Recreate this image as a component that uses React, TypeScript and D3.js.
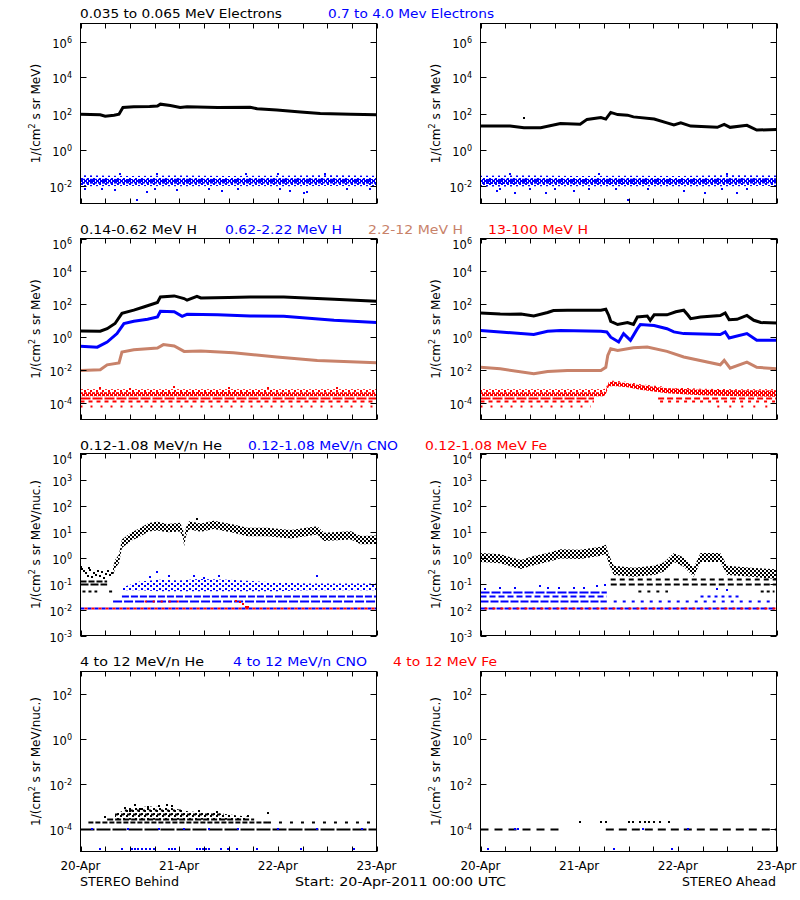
import React from 'react';
import * as d3 from 'd3';

type Pt = [number, number];
type Lev = [number, number, number]; // value, startDay, endDay

const DATE_LABELS = ['20-Apr', '21-Apr', '22-Apr', '23-Apr'];

// ---------- Row 1: electrons ----------
const BEH_E_LO: Pt[] = [[0,91],[0.1,88],[0.2,85],[0.25,71],[0.34,81],[0.39,91],[0.43,214],[0.54,234],[0.7,245],[0.78,257],[0.81,331],[0.91,275],[1.01,214],[1.08,240],[1.39,214],[1.72,224],[1.79,182],[1.99,155],[2.23,123],[2.43,100],[2.74,91],[3.0,85]];
const AHD_E_LO: Pt[] = [[0,20],[0.3,20],[0.44,16],[0.61,16],[0.81,28],[1.01,25],[1.08,47],[1.22,60],[1.27,49],[1.32,115],[1.39,87],[1.49,81],[1.55,65],[1.76,49],[1.89,30],[1.96,23],[2.03,30],[2.13,20],[2.40,17],[2.47,25],[2.53,17],[2.70,22],[2.80,12],[3.0,13]];
const AHD_E_LO_STRAY: Pt[] = [[0.44,53]];
const E_HI_DAYS = [0, 0.5, 1, 1.5, 2, 2.5, 3];
const BEH_EH_CORE_LO = [0.0125,0.013,0.0125,0.013,0.0125,0.013,0.0125];
const BEH_EH_CORE_HI = [0.024,0.023,0.024,0.023,0.024,0.024,0.023];
const BEH_EH_OUT_LO = [0.009,0.0095,0.009,0.0095,0.009,0.0095,0.009];
const BEH_EH_OUT_HI = [0.037,0.034,0.036,0.034,0.035,0.037,0.035];
const AHD_EH_CORE_LO = [0.012,0.0125,0.0125,0.012,0.0125,0.0125,0.013];
const AHD_EH_CORE_HI = [0.023,0.024,0.023,0.024,0.023,0.024,0.025];
const AHD_EH_OUT_LO = [0.0088,0.009,0.0092,0.009,0.009,0.0092,0.0095];
const AHD_EH_OUT_HI = [0.035,0.036,0.034,0.035,0.034,0.037,0.036];
const BEH_EH_STRAY: Pt[] = [[0.05,0.0068],[0.22,0.0062],[0.35,0.0058],[0.57,0.0016],[0.67,0.0045],[0.75,0.0063],[0.98,0.0058],[1.3,0.006],[1.43,0.0052],[1.6,0.0065],[2.02,0.0062],[2.12,0.0052],[2.27,0.0038],[2.3,0.0046],[2.7,0.0066],[2.93,0.006],[0.78,0.045],[1.68,0.042],[2.48,0.044],[0.4,0.043],[2.0,0.041]];
const AHD_EH_STRAY: Pt[] = [[0.17,0.005],[0.2,0.0068],[0.35,0.0036],[0.5,0.0066],[0.66,0.0036],[0.75,0.0066],[0.95,0.005],[1.1,0.0066],[1.37,0.0066],[1.49,0.0016],[1.7,0.0066],[2.06,0.005],[2.28,0.0036],[2.45,0.0066],[2.6,0.0036],[2.7,0.0068],[0.3,0.042],[1.2,0.044],[2.5,0.042]];

// ---------- Row 2: protons ----------
const BEH_H1: Pt[] = [[0,2.4],[0.2,2.3],[0.27,3.3],[0.35,6.8],[0.42,28],[0.54,44],[0.64,69],[0.78,129],[0.81,282],[0.95,324],[1.05,224],[1.08,178],[1.18,309],[1.22,245],[1.5,263],[1.72,282],[2.06,282],[2.57,204],[3.0,155]];
const BEH_H2: Pt[] = [[0,0.28],[0.17,0.25],[0.27,0.51],[0.37,1.66],[0.44,6.8],[0.54,9.3],[0.68,12.3],[0.78,17],[0.81,38],[0.95,35],[1.03,18.6],[1.08,24.5],[1.39,23.4],[1.72,19.5],[2.06,18.6],[2.57,10.7],[3.0,7.8]];
const BEH_H3: Pt[] = [[0,0.0095],[0.2,0.0105],[0.27,0.021],[0.39,0.027],[0.42,0.126],[0.54,0.174],[0.78,0.219],[0.84,0.355],[0.95,0.295],[1.05,0.138],[1.22,0.145],[1.55,0.115],[1.99,0.063],[2.40,0.039],[3.0,0.028]];
const BEH_H4_DAYS = [0, 1, 2, 3];
const BEH_H4_CORE_LO = [2.6e-4, 2.6e-4, 2.6e-4, 2.6e-4];
const BEH_H4_CORE_HI = [4.6e-4, 4.7e-4, 4.6e-4, 4.6e-4];
const BEH_H4_OUT_HI = [6.8e-4, 7e-4, 6.8e-4, 7e-4];
const BEH_H4_LEVELS: Lev[] = [[1.95e-4,0,3],[1.4e-4,0,3],[6.2e-5,0,3]];
const BEH_H4_STRAY: Pt[] = [[0.2,8e-4],[0.95,9e-4],[1.5,8e-4],[2.6,8e-4],[0.5,7.5e-4],[1.9,7.8e-4]];

const AHD_H1: Pt[] = [[0,30],[0.2,26],[0.30,25],[0.41,26],[0.54,19.5],[0.68,32],[0.74,42],[0.88,44],[1.22,44],[1.27,50],[1.30,21],[1.32,9.3],[1.39,5.9],[1.49,7.8],[1.55,5.9],[1.59,17],[1.69,19.5],[1.72,10.7],[1.76,23],[1.89,23],[1.98,35],[2.06,44],[2.10,23],[2.13,13.5],[2.23,17],[2.43,21],[2.48,30],[2.52,11.7],[2.60,12.3],[2.70,21],[2.77,10.7],[2.84,7.8],[3.0,7.4]];
const AHD_H2: Pt[] = [[0,2.6],[0.2,2.1],[0.54,1.45],[0.68,2.3],[0.81,2.6],[1.22,2.3],[1.28,2.1],[1.32,1.0],[1.40,0.51],[1.45,1.66],[1.52,0.65],[1.59,3.3],[1.62,5.9],[1.76,5.2],[1.89,3.3],[1.96,2.1],[2.06,1.66],[2.43,1.45],[2.48,2.1],[2.52,0.89],[2.70,1.66],[2.80,0.65],[3.0,0.65]];
const AHD_H3: Pt[] = [[0,0.015],[0.2,0.012],[0.54,0.006],[0.68,0.0083],[0.88,0.0095],[1.22,0.0095],[1.27,0.015],[1.29,0.079],[1.32,0.2],[1.39,0.158],[1.55,0.229],[1.69,0.251],[1.89,0.138],[2.06,0.063],[2.43,0.021],[2.47,0.039],[2.53,0.013],[2.70,0.031],[2.80,0.015],[3.0,0.012]];
const AHD_H4_DAYS = [0,1.25,1.27,1.30,1.35,1.49,1.62,1.89,2.23,2.6,3.0];
const AHD_H4_CORE_LO = [2.6e-4,2.6e-4,3.5e-4,1.0e-3,1.1e-3,9e-4,6.5e-4,4e-4,3e-4,2.6e-4,2.4e-4];
const AHD_H4_CORE_HI = [4.6e-4,4.6e-4,6e-4,1.9e-3,2e-3,1.6e-3,1.2e-3,8e-4,6.5e-4,6e-4,5.8e-4];
const AHD_H4_OUT_HI = [7e-4,7e-4,8e-4,2.3e-3,2.3e-3,1.9e-3,1.4e-3,9.5e-4,7.5e-4,7e-4,6.8e-4];
const AHD_H4_LEVELS: Lev[] = [[1.95e-4,0,1.15],[1.4e-4,0,1.15],[6.2e-5,0,1.12],[1.95e-4,1.8,3],[1.4e-4,1.82,3],[6.2e-5,2.4,3]];

// ---------- Row 3: 0.12-1.08 MeV/n ions ----------
const BEH_HE_DAYS = [0.33,0.35,0.39,0.42,0.51,0.61,0.69,0.78,0.88,1.01,1.04,1.05,1.07,1.10,1.22,1.35,1.55,1.69,1.89,2.13,2.40,2.47,2.74,2.84,3.0];
const BEH_HE_LO = [0.19,0.39,0.6,2.3,4.3,6.5,10,11,9.3,10,5.4,2.7,6.9,12,9.7,12.5,8.9,6.5,6.5,5.4,7.6,4.3,4.9,3.2,3.3];
const BEH_HE_HI = [0.4,0.8,1.3,4.9,9,13.8,21,23.5,19.6,21.5,11.5,5.8,14.5,25,20.5,26,18.7,13.8,13.8,11.3,16,9,10.3,6.7,7];
const BEH_HE_EARLY: Pt[] = [[0.02,0.35],[0.04,0.3],[0.06,0.25],[0.08,0.2],[0.1,0.32],[0.12,0.18],[0.14,0.26],[0.16,0.22],[0.18,0.3],[0.2,0.2],[0.22,0.27],[0.24,0.17],[0.26,0.23],[0.28,0.3],[0.3,0.22],[0.32,0.26],[1.18,31],[0.01,0.42],[0.09,0.4]];
const BEH_HE_LEVELS: Lev[] = [[0.129,0,0.27],[0.095,0,0.27],[0.05,0.02,0.17],[0.05,0.29,0.33]];
const BEH_CNO_DAYS = [0.42,0.6,0.8,1.0,1.2,1.5,1.8,2.0,2.3,2.6,3.0];
const BEH_CNO_LO = [0.055,0.055,0.05,0.05,0.05,0.05,0.05,0.05,0.055,0.055,0.055];
const BEH_CNO_HI = [0.07,0.12,0.14,0.13,0.15,0.14,0.12,0.11,0.1,0.1,0.1];
const BEH_CNO_STRAY: Pt[] = [[0.78,0.28],[0.9,0.19],[1.15,0.2],[1.4,0.19],[2.4,0.2],[0.7,0.18],[1.25,0.17]];
const BEH_CNO_LEVELS: Lev[] = [[0.034,0.42,3],[0.022,0.33,3],[0.011,0,3]];
const BEH_FE_LEVELS: Lev[] = [[0.011,0,3],[0.022,0.6,1.0]];
const BEH_FE_STRAY: Pt[] = [[1.58,0.022],[1.62,0.019],[1.65,0.016],[1.68,0.013],[1.7,0.012]];

const AHD_HE_DAYS = [0,0.2,0.41,0.54,0.68,0.81,1.01,1.22,1.27,1.30,1.35,1.55,1.76,1.86,1.96,2.06,2.16,2.23,2.43,2.50,2.74,3.0];
const AHD_HE_LO = [0.67,0.6,0.36,0.5,0.67,0.92,0.88,1.16,1.4,0.6,0.21,0.18,0.21,0.29,0.67,0.44,0.18,0.67,0.67,0.21,0.18,0.15];
const AHD_HE_HI = [1.5,1.33,0.8,1.14,1.5,2.07,2.0,2.6,3.1,1.33,0.48,0.4,0.48,0.65,1.5,1.0,0.4,1.5,1.5,0.48,0.4,0.35];
const AHD_HE_LEVELS: Lev[] = [[0.15,1.32,3],[0.095,1.32,3],[0.05,1.6,1.9],[0.05,2.84,2.98]];
const AHD_CNO_LEVELS: Lev[] = [[0.046,0,1.28],[0.034,0,1.28],[0.022,0,1.28],[0.022,1.35,3],[0.034,2.23,2.63],[0.011,0,3]];
const AHD_CNO_STRAY: Pt[] = [[0.05,0.06],[0.2,0.07],[0.35,0.065],[0.6,0.08],[0.68,0.065],[0.8,0.07],[0.95,0.065],[1.05,0.07],[1.18,0.08],[1.26,0.085],[2.4,0.06],[2.5,0.055]];
const AHD_FE_LEVELS: Lev[] = [[0.011,0,3]];

// ---------- Row 4: 4-12 MeV/n ions ----------
const BEH_HE4_DAYS = [0.35,0.5,0.7,0.9,1.1,1.4,1.7];
const BEH_HE4_LO = [2.6e-4,2.6e-4,2.6e-4,2.6e-4,2.6e-4,2.6e-4,2.6e-4];
const BEH_HE4_HI = [4.5e-4,9e-4,1e-3,9e-4,6e-4,5e-4,3.5e-4];
const BEH_HE4_LEVELS: Lev[] = [[1e-4,0,3],[2.0e-4,0.08,1.9],[2.0e-4,1.9,3],[2.9e-4,0.27,1.76],[4.7e-4,0.35,1.45],[7.2e-4,0.45,1.05]];
const BEH_HE4_STRAY: Pt[] = [[0.45,9e-4],[0.55,1.2e-3],[0.6,8e-4],[0.68,1e-3],[0.8,1.1e-3],[0.88,1.2e-3],[0.93,1.05e-3],[0.5,6e-4],[1.2,6e-4],[1.38,5.5e-4],[1.9,5e-4],[0.25,3.5e-4],[1.7,3.8e-4]];
const BEH_CNO4_DAYS = [0.2,0.42,0.52,0.55,0.58,0.62,0.66,0.7,0.74,0.9,0.93,0.96,1.18,1.21,1.24,1.27,1.3,1.42,1.49,1.59,1.79,2.23,2.77];
const BEH_CNO4_ON_LINE = [0.12,0.48,0.8,1.05,1.3,1.6,2.0,2.4,2.85];
const AHD_HE4_LEVELS: Lev[] = [[1e-4,0,0.85],[1e-4,1.27,3]];
const AHD_HE4_DAYS = [1.01,1.22,1.27,1.50,1.55,1.62,1.67,1.71,1.76,1.82,1.91];
const AHD_CNO4_DAYS = [0.08,1.35,1.94];
const AHD_CNO4_ON_LINE = [0.35,0.38,1.65,2.1];
const HE4_MIN_COUNT = 2.0e-4;
const CNO4_MIN_COUNT = 1.26e-5;
const CNO4_LINE = 1e-4;

// ---------- layout ----------
const ROWS = [
  { top: 23.5, bottom: 203.5, domain: [1e-3, 1e7], ticks: [1e-2, 1, 1e2, 1e4, 1e6], unit: 'MeV)' },
  { top: 238.5, bottom: 419.5, domain: [1e-5, 1e6], ticks: [1e-4, 1e-2, 1, 1e2, 1e4, 1e6], unit: 'MeV)' },
  { top: 453.5, bottom: 635.5, domain: [1e-3, 1e4], ticks: [1e-3, 1e-2, 1e-1, 1, 1e1, 1e2, 1e3, 1e4], unit: 'MeV/nuc.)' },
  { top: 671.5, bottom: 851.5, domain: [1e-5, 1e3], ticks: [1e-4, 1e-2, 1, 1e2], unit: 'MeV/nuc.)' },
];
const FONT = "'DejaVu Sans', Verdana, sans-serif";
const BLACK = '#000000', BLUE = '#0000ff', RED = '#ff0000', BROWN = '#c8826a';

const PATTERNS: Record<string, { w: number; h: number; rects: number[][] }> = {
  dense: { w: 4, h: 4, rects: [[0, 0, 3, 2], [2, 2, 2, 2], [0, 2, 1, 2]] },
  medium: { w: 4, h: 4, rects: [[0, 0, 2, 2], [2, 2, 2, 2]] },
  sparse: { w: 6, h: 5, rects: [[0, 0, 2, 2], [3, 3, 2, 2]] },
};

type Band = { days: number[]; lo: number[]; hi: number[]; color: string; pat: string };
type LevelSet = { levels: Lev[]; color: string; dash: string[]; off?: number };
type Series = { data: Pt[]; color: string };
type PanelCfg = { row: number; col: number; bands: Band[]; levels: LevelSet[]; lines: Series[]; points: Series[] };

const toPts = (days: number[], v: number): Pt[] => days.map((d) => [d, v] as Pt);

function Panel({ cfg }: { cfg: PanelCfg }) {
  const R = ROWS[cfg.row];
  const x0 = cfg.col === 0 ? 80.5 : 480.5;
  const x1 = x0 + 296;
  const xs = d3.scaleLinear().domain([0, 3]).range([x0, x1]);
  const ys = d3.scaleLog().domain(R.domain).range([R.bottom, R.top]);
  const clip = `clip-${cfg.row}-${cfg.col}`;
  const line = d3.line<Pt>().x((d) => xs(d[0])).y((d) => ys(d[1]));
  const xTicks = d3.range(0, 13).map((i) => i * 0.25);
  const labelX = cfg.col === 0 ? 72 : 472;
  const ylabX = cfg.col === 0 ? 39.5 : 439.5;
  const cy = (R.top + R.bottom) / 2;
  return (
    <g>
      <defs>
        <clipPath id={clip}>
          <rect x={x0} y={R.top} width={x1 - x0} height={R.bottom - R.top} />
        </clipPath>
      </defs>
      <g clipPath={`url(#${clip})`}>
        {cfg.bands.map((b, i) => {
          const area = d3
            .area<number>()
            .x((_, k) => xs(b.days[k]))
            .y0((_, k) => ys(b.lo[k]))
            .y1((_, k) => ys(b.hi[k]));
          return <path key={'b' + i} d={area(b.days) || ''} fill={`url(#pat-${b.pat}-${b.color.slice(1)})`} />;
        })}
        {cfg.levels.map((ls, i) =>
          ls.levels.map((l, j) => (
            <line
              key={'l' + i + '-' + j}
              x1={xs(l[1])}
              x2={xs(l[2])}
              y1={Math.round(ys(l[0])) + 0.5}
              y2={Math.round(ys(l[0])) + 0.5}
              stroke={ls.color}
              strokeWidth={2}
              strokeDasharray={ls.dash[j % ls.dash.length]}
              strokeDashoffset={ls.off || 0}
            />
          ))
        )}
        {cfg.lines.map((s, i) => (
          <path key={'s' + i} d={line(s.data) || ''} fill="none" stroke={s.color} strokeWidth={3} />
        ))}
        {cfg.points.map((s, i) =>
          s.data.map((p, j) => (
            <rect key={'p' + i + '-' + j} x={Math.round(xs(p[0])) - 1} y={Math.round(ys(p[1])) - 1} width={2} height={2} fill={s.color} />
          ))
        )}
      </g>
      <rect x={x0} y={R.top} width={x1 - x0} height={R.bottom - R.top} fill="none" stroke="#000" strokeWidth={1} />
      {xTicks.map((t, i) => (
        <g key={'xt' + i}>
          <line x1={Math.round(xs(t)) + 0.5} x2={Math.round(xs(t)) + 0.5} y1={R.bottom} y2={R.bottom - 5} stroke="#000" />
          <line x1={Math.round(xs(t)) + 0.5} x2={Math.round(xs(t)) + 0.5} y1={R.top} y2={R.top + 5} stroke="#000" />
        </g>
      ))}
      {R.ticks.map((t, i) => {
        const y = Math.round(ys(t)) + 0.5;
        const e = Math.round(Math.log10(t));
        const atTop = Math.abs(y - R.top) < 2;
        const ly = atTop ? y + 4 : y;
        return (
          <g key={'yt' + i}>
            <line x1={x0} x2={x0 + 6} y1={y} y2={y} stroke="#000" />
            <line x1={x1 - 6} x2={x1} y1={y} y2={y} stroke="#000" />
            <text x={labelX} y={ly + 5} textAnchor="end" fontFamily={FONT} fontSize={11.5} fill="#000">
              10<tspan dy={-5} fontSize={8}>{String(e)}</tspan>
            </text>
          </g>
        );
      })}
      <text transform={`translate(${ylabX},${cy}) rotate(-90)`} textAnchor="middle" fontFamily={FONT} fontSize={12} fill="#000">
        1/(cm<tspan dy={-5} fontSize={8}>2</tspan>
        <tspan dy={5}>{' s sr ' + R.unit}</tspan>
      </text>
      {cfg.row === 3 &&
        DATE_LABELS.map((lab, i) => (
          <text key={'d' + i} x={xs(i)} y={870} textAnchor="middle" fontFamily={FONT} fontSize={12} fill="#000">
            {lab}
          </text>
        ))}
    </g>
  );
}

function Title({ x, y, w, color, text }: { x: number; y: number; w: number; color: string; text: string }) {
  return (
    <text x={x} y={y} fontFamily={FONT} fontSize={12} fill={color} textLength={w} lengthAdjust="spacingAndGlyphs">
      {text}
    </text>
  );
}

export default function App() {
  const panels: PanelCfg[] = [
    {
      row: 0, col: 0,
      bands: [
        { days: E_HI_DAYS, lo: BEH_EH_OUT_LO, hi: BEH_EH_OUT_HI, color: BLUE, pat: 'sparse' },
        { days: E_HI_DAYS, lo: BEH_EH_CORE_LO, hi: BEH_EH_CORE_HI, color: BLUE, pat: 'dense' },
      ],
      levels: [],
      lines: [{ data: BEH_E_LO, color: BLACK }],
      points: [{ data: BEH_EH_STRAY, color: BLUE }],
    },
    {
      row: 0, col: 1,
      bands: [
        { days: E_HI_DAYS, lo: AHD_EH_OUT_LO, hi: AHD_EH_OUT_HI, color: BLUE, pat: 'sparse' },
        { days: E_HI_DAYS, lo: AHD_EH_CORE_LO, hi: AHD_EH_CORE_HI, color: BLUE, pat: 'dense' },
      ],
      levels: [],
      lines: [{ data: AHD_E_LO, color: BLACK }],
      points: [{ data: AHD_EH_STRAY, color: BLUE }, { data: AHD_E_LO_STRAY, color: BLACK }],
    },
    {
      row: 1, col: 0,
      bands: [
        { days: BEH_H4_DAYS, lo: BEH_H4_CORE_HI, hi: BEH_H4_OUT_HI, color: RED, pat: 'sparse' },
        { days: BEH_H4_DAYS, lo: BEH_H4_CORE_LO, hi: BEH_H4_CORE_HI, color: RED, pat: 'dense' },
      ],
      levels: [{ levels: BEH_H4_LEVELS, color: RED, dash: ['10 2', '4 4', '2 8'] }],
      lines: [
        { data: BEH_H1, color: BLACK },
        { data: BEH_H2, color: BLUE },
        { data: BEH_H3, color: BROWN },
      ],
      points: [{ data: BEH_H4_STRAY, color: RED }],
    },
    {
      row: 1, col: 1,
      bands: [
        { days: AHD_H4_DAYS, lo: AHD_H4_CORE_HI, hi: AHD_H4_OUT_HI, color: RED, pat: 'sparse' },
        { days: AHD_H4_DAYS, lo: AHD_H4_CORE_LO, hi: AHD_H4_CORE_HI, color: RED, pat: 'dense' },
      ],
      levels: [{ levels: AHD_H4_LEVELS, color: RED, dash: ['10 2', '4 4', '2 8', '6 3', '3 5', '2 10'] }],
      lines: [
        { data: AHD_H1, color: BLACK },
        { data: AHD_H2, color: BLUE },
        { data: AHD_H3, color: BROWN },
      ],
      points: [],
    },
    {
      row: 2, col: 0,
      bands: [
        { days: BEH_CNO_DAYS, lo: BEH_CNO_LO, hi: BEH_CNO_HI, color: BLUE, pat: 'sparse' },
        { days: BEH_HE_DAYS, lo: BEH_HE_LO, hi: BEH_HE_HI, color: BLACK, pat: 'medium' },
      ],
      levels: [
        { levels: BEH_HE_LEVELS, color: BLACK, dash: ['6 2', '8 2', '3 3', '3 3'] },
        { levels: BEH_CNO_LEVELS, color: BLUE, dash: ['7 2', '9 2', '4 3'] },
        { levels: BEH_FE_LEVELS, color: RED, dash: ['3 4', '2 6'], off: 3 },
      ],
      lines: [],
      points: [
        { data: BEH_HE_EARLY, color: BLACK },
        { data: BEH_CNO_STRAY, color: BLUE },
        { data: BEH_FE_STRAY, color: RED },
      ],
    },
    {
      row: 2, col: 1,
      bands: [{ days: AHD_HE_DAYS, lo: AHD_HE_LO, hi: AHD_HE_HI, color: BLACK, pat: 'medium' }],
      levels: [
        { levels: AHD_HE_LEVELS, color: BLACK, dash: ['5 4', '6 3', '3 6', '3 3'] },
        { levels: AHD_CNO_LEVELS, color: BLUE, dash: ['9 2', '6 3', '8 2', '3 6', '3 4', '6 2'] },
        { levels: AHD_FE_LEVELS, color: RED, dash: ['3 5'], off: 4 },
      ],
      lines: [],
      points: [{ data: AHD_CNO_STRAY, color: BLUE }],
    },
    {
      row: 3, col: 0,
      bands: [{ days: BEH_HE4_DAYS, lo: BEH_HE4_LO, hi: BEH_HE4_HI, color: BLACK, pat: 'sparse' }],
      levels: [{ levels: BEH_HE4_LEVELS, color: BLACK, dash: ['14 2', '5 2', '3 8', '6 2', '3 3', '2 4'] }],
      lines: [],
      points: [
        { data: BEH_HE4_STRAY, color: BLACK },
        { data: toPts(BEH_CNO4_DAYS, CNO4_MIN_COUNT), color: BLUE },
        { data: toPts(BEH_CNO4_ON_LINE, CNO4_LINE), color: BLUE },
      ],
    },
    {
      row: 3, col: 1,
      bands: [],
      levels: [{ levels: AHD_HE4_LEVELS, color: BLACK, dash: ['8 6', '8 5'] }],
      lines: [],
      points: [
        { data: toPts(AHD_HE4_DAYS, HE4_MIN_COUNT), color: BLACK },
        { data: toPts(AHD_CNO4_DAYS, CNO4_MIN_COUNT), color: BLUE },
        { data: toPts(AHD_CNO4_ON_LINE, CNO4_LINE), color: BLUE },
      ],
    },
  ];

  const colors = [BLACK, BLUE, RED, BROWN];
  return (
    <svg width={800} height={900} style={{ position: 'absolute', left: 0, top: 0, background: '#fff' }}>
      <defs>
        {colors.map((c) =>
          Object.keys(PATTERNS).map((k) => (
            <pattern key={k + c} id={`pat-${k}-${c.slice(1)}`} patternUnits="userSpaceOnUse" width={PATTERNS[k].w} height={PATTERNS[k].h}>
              {PATTERNS[k].rects.map((r, i) => (
                <rect key={i} x={r[0]} y={r[1]} width={r[2]} height={r[3]} fill={c} />
              ))}
            </pattern>
          ))
        )}
      </defs>
      <rect x={0} y={0} width={800} height={900} fill="#fff" />
      {panels.map((p, i) => (
        <Panel key={i} cfg={p} />
      ))}
      <Title x={80} y={18} w={202} color={BLACK} text="0.035 to 0.065 MeV Electrons" />
      <Title x={328} y={18} w={166} color={BLUE} text="0.7 to 4.0 Mev Electrons" />
      <Title x={80} y={234} w={117} color={BLACK} text="0.14-0.62 MeV H" />
      <Title x={225} y={234} w={117} color={BLUE} text="0.62-2.22 MeV H" />
      <Title x={368} y={234} w={95} color={BROWN} text="2.2-12 MeV H" />
      <Title x={488} y={234} w={100} color={RED} text="13-100 MeV H" />
      <Title x={80} y={449.5} w={142} color={BLACK} text="0.12-1.08 MeV/n He" />
      <Title x={248} y={449.5} w={150} color={BLUE} text="0.12-1.08 MeV/n CNO" />
      <Title x={425} y={449.5} w={122} color={RED} text="0.12-1.08 MeV Fe" />
      <Title x={80} y={665.5} w={124} color={BLACK} text="4 to 12 MeV/n He" />
      <Title x={233} y={665.5} w={134} color={BLUE} text="4 to 12 MeV/n CNO" />
      <Title x={393} y={665.5} w={104} color={RED} text="4 to 12 MeV Fe" />
      <Title x={80} y={886} w={99} color={BLACK} text="STEREO Behind" />
      <Title x={295} y={886} w={211} color={BLACK} text="Start: 20-Apr-2011 00:00 UTC" />
      <Title x={682} y={886} w={94} color={BLACK} text="STEREO Ahead" />
    </svg>
  );
}
